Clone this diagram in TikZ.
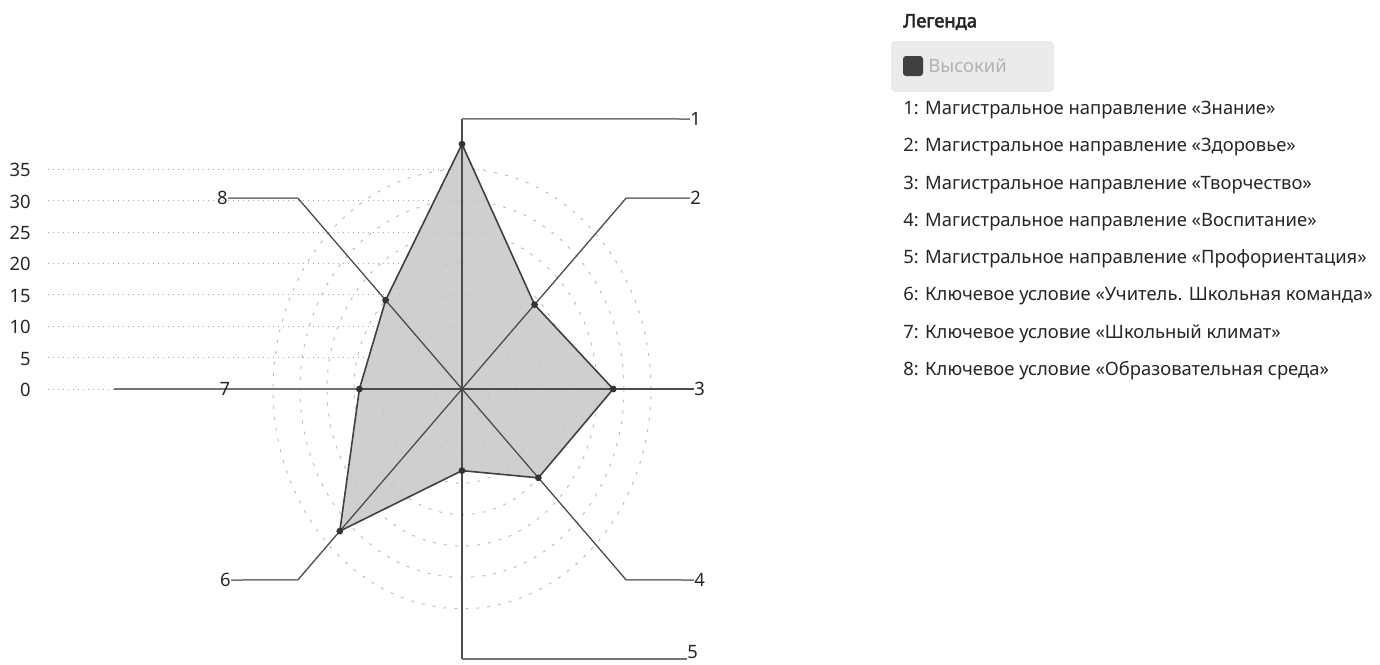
\documentclass[tikz,border=0pt]{standalone}
\usepackage{fontspec}
\setmainfont{Noto Sans}
\newfontfamily\titlefont[FakeBold=3]{Noto Sans}
\usepackage{tikz}
\colorlet{gridgray}{black!35}
\colorlet{ringgray}{black!25}
\colorlet{axisgray}{black!70}
\colorlet{leadgray}{black!55}
\colorlet{areagray}{black!22}
\colorlet{dotgray}{black!80}

\begin{document}
\begin{tikzpicture}[x=0.5pt,y=-0.5pt,
        every node/.style={font=\fontsize{9.2}{11}\selectfont, inner sep=0pt, text=black!85},
        axisline/.style={axisgray, line width=0.65pt},
        leader/.style={leadgray, line width=0.75pt}]
    \useasboundingbox (0,0) rectangle (1380,664);
    \foreach \k in {0,...,7}{
        \draw[gridgray, dotted, line width=0.5pt](48,389-31.4*\k)--(487,389-31.4*\k);
        \pgfmathtruncatemacro\val{5*\k}
        \node[anchor=east] (t\k) at (31,390-31.4*\k) {\val};
    }
    \begin{scope}[shift={(462,389)}, x=2.7pt, y=3.14pt]
        \coordinate (c) at (0,0);
        \foreach \k in {1,...,7}{
            \draw[ringgray, dash pattern=on 1.5pt off 4pt, line width=0.5pt](c) ellipse [x radius={13.5pt*\k}, y radius={15.7pt*\k}];
        }
        \foreach \i/\v in {1/39,2/19,3/28,4/20,5/13,6/32,7/19,8/20}{
            \coordinate (p\i) at ({90-45*(\i-1)}:\v);
            \coordinate (e\i) at ({90-45*(\i-1)}:43);
        }
        \fill[areagray, fill opacity=0.85] (p1) \foreach \i in {2,...,8}{--(p\i)} --cycle;
    \end{scope}
    \node[anchor=west] (l1) at (690,119) {1};
    \node[anchor=west] (l2) at (690,198) {2};
    \node[anchor=west] (l3) at (694,389) {3};
    \node[anchor=west] (l4) at (694,580) {4};
    \node[anchor=south west] (l5) at (687,659) {5};
    \node[anchor=east] (l6) at (231,580) {6};
    \coordinate (end7) at (114,389);
    \node[anchor=east] (l8) at (228,198) {8};
    \foreach \i in {1,2,4,5,6,8}{
        \draw[axisline](c)--(e\i);
    }
    \draw[axisline](c)--(l3.west);
    \draw[axisline](c)--(p7);
    \draw[leader](p7)--(end7);
    \node (l7) at (225,389) {7};
    \foreach \i in {1,2,4}{
        \draw[leader](e\i)--(l\i.west);
    }
    \draw[leader](e5)--(e5-|l5.west);
    \foreach \i in {6,8}{
        \draw[leader](e\i)--(l\i.east);
    }
    \draw[black!75, line width=0.8pt, line join=round] (p1) \foreach \i in {2,...,8}{--(p\i)} --cycle;
    \foreach \i in {1,...,8}{
        \fill[dotgray](p\i) circle (1.7pt);
    }
    \node[anchor=west, font=\fontsize{9.2}{11}\titlefont] (title) at (903,22) {Легенда};
    \fill[black!8, rounded corners=2pt](891,41) rectangle (1054,92);
    \fill[black!75, rounded corners=1.5pt](903,56) rectangle (923,76);
    \node[anchor=west, text=black!30] (high) at (928,66) {Высокий};
    \foreach \i/\t in {1/{Магистральное направление «Знание»},
                       2/{Магистральное направление «Здоровье»},
                       3/{Магистральное направление «Творчество»},
                       4/{Магистральное направление «Воспитание»},
                       5/{Магистральное направление «Профориентация»},
                       6/{Ключевое условие «Учитель. Школьная команда»},
                       7/{Ключевое условие «Школьный климат»},
                       8/{Ключевое условие «Образовательная среда»}}{
        \node[anchor=west] (g\i) at (903,{110+37.3*(\i-1)}) {\i: \t};
    }
\end{tikzpicture}
\end{document}
